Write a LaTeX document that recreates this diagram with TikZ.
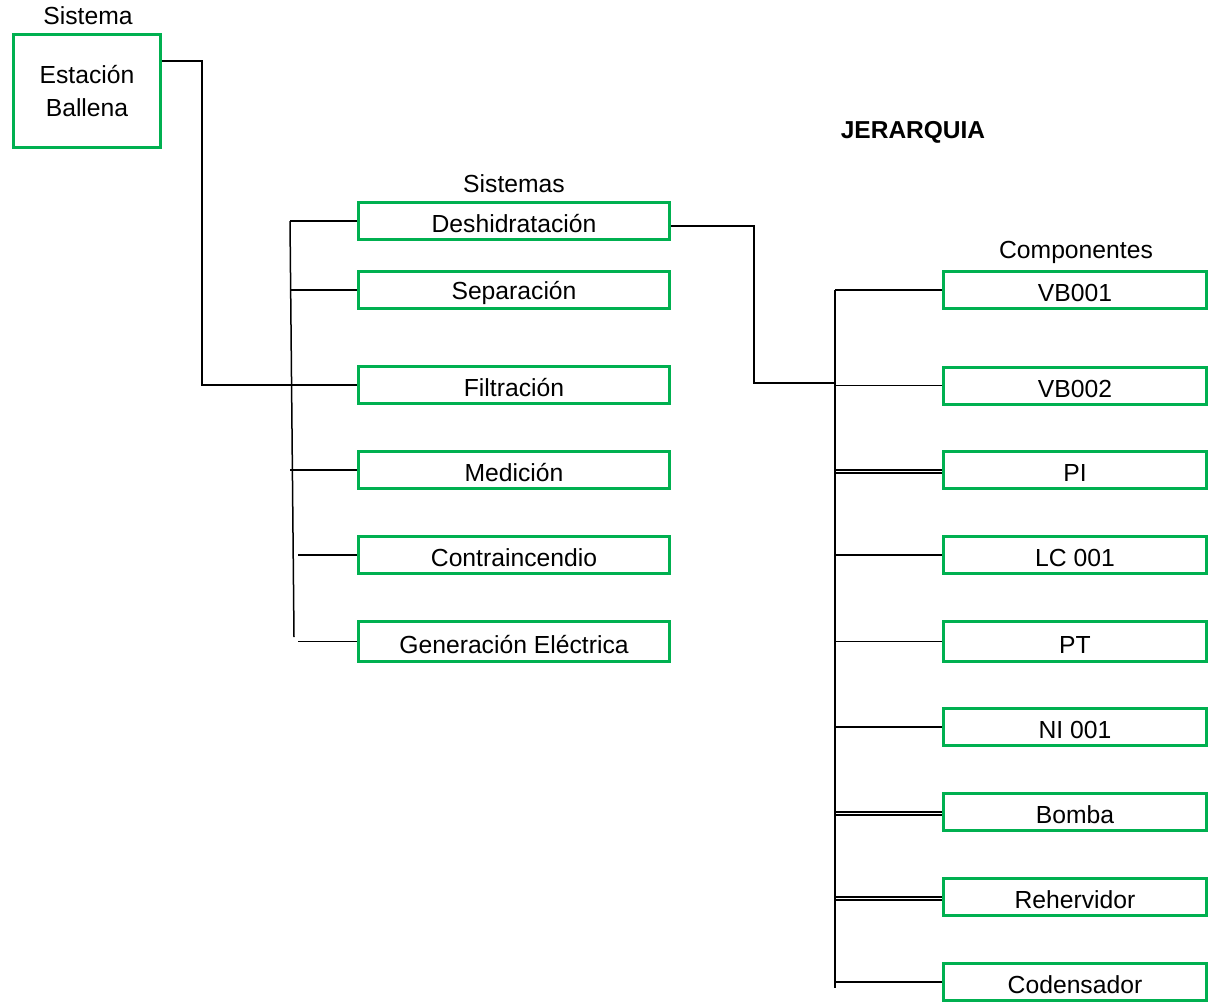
\documentclass[tikz,border=0pt]{standalone}
\usepackage{fontspec}
\setmainfont{Liberation Sans}
\definecolor{boxgreen}{HTML}{00B050}
\newcommand\lowtxt[1]{\raisebox{-3pt}[\height][\depth]{#1}}
\begin{document}
\begin{tikzpicture}[x=1pt,y=-1pt,
  box/.style={draw=boxgreen,line width=3pt,inner sep=0pt,fill=white,font=\fontsize{24.7}{33}\selectfont,align=center},
  sbox/.style={box,minimum width=311pt,minimum height=37pt},
  cbox/.style={box,minimum width=263pt,minimum height=37pt},
  lbl/.style={font=\fontsize{24.7}{29}\selectfont,inner sep=0pt},
  conn/.style={draw=black,line width=1.5pt}]
\useasboundingbox (0,0) rectangle (1210,1006);
% top node
\node[box,minimum width=147pt,minimum height=113pt] (est) at (87,91) {Estación\\Ballena};
\node[lbl] (tsis) at (88,16) {Sistema};
% systems
\node[sbox] (desh) at (514,221) {\lowtxt{Deshidratación}};
\node[sbox] (sep)  at (514,290) {\lowtxt{Separación}};
\node[sbox] (filt) at (514,385) {\lowtxt{Filtración}};
\node[sbox] (med)  at (514,470) {\lowtxt{Medición}};
\node[sbox] (cont) at (514,555) {\lowtxt{Contraincendio}};
\node[sbox,minimum height=40pt] (gen) at (514,641.5) {\lowtxt{Generación Eléctrica}};
\node[lbl] (tsiss) at (514,184) {Sistemas};
% components
\node[cbox] (vb1) at (1075,290) {\lowtxt{VB001}};
\node[cbox] (vb2) at (1075,385.5) {\lowtxt{VB002}};
\node[cbox] (pi)  at (1075,470) {\lowtxt{PI}};
\node[cbox] (lc)  at (1075,555) {\lowtxt{LC 001}};
\node[cbox,minimum height=40pt] (pt) at (1075,641.5) {\lowtxt{PT}};
\node[cbox] (ni)  at (1075,727) {\lowtxt{NI 001}};
\node[cbox] (bom) at (1075,812) {\lowtxt{Bomba}};
\node[cbox] (reh) at (1075,897) {\lowtxt{Rehervidor}};
\node[cbox] (cod) at (1075,982) {\lowtxt{Codensador}};
\node[lbl] (tcomp) at (1076,252) {Componentes};
\node[lbl,font=\bfseries\fontsize{24.5}{29}\selectfont] (title) at (913,132) {JERARQUIA};
% connectors: top to systems
\coordinate (e1) at (202,61);
\draw[conn] (est.north east |- e1) -- (e1) |- (filt.west);
% systems bus
\coordinate (s1) at (290,221);
\coordinate (s2) at (294,637);
\coordinate (s3) at (298,555);
\draw[conn] (s1) -- (s2);
\draw[conn] (s1) -- (desh.west);
\foreach \n in {sep,med} {\draw[conn] (\n.west -| s1) -- (\n.west);}
\foreach \n in {cont,gen} {\draw[conn] (\n.west -| s3) -- (\n.west);}
% deshidratacion to components
\coordinate (d1) at (754,226);
\coordinate (d2) at (835,383);
\draw[conn] (desh.east |- d1) -- (d1) |- (d2);
% components bus
\coordinate (c1) at (835,290);
\coordinate (c2) at (835,988);
\draw[conn] (c1) -- (c2);
\foreach \n in {vb1,vb2,pi,lc,pt,ni,bom,reh,cod} {\draw[conn] (\n.west -| c1) -- (\n.west);}
\foreach \n in {pi,bom,reh} {\draw[conn] ([yshift=-3pt]\n.west -| c1) -- ([yshift=-3pt]\n.west);}
\end{tikzpicture}
\end{document}
